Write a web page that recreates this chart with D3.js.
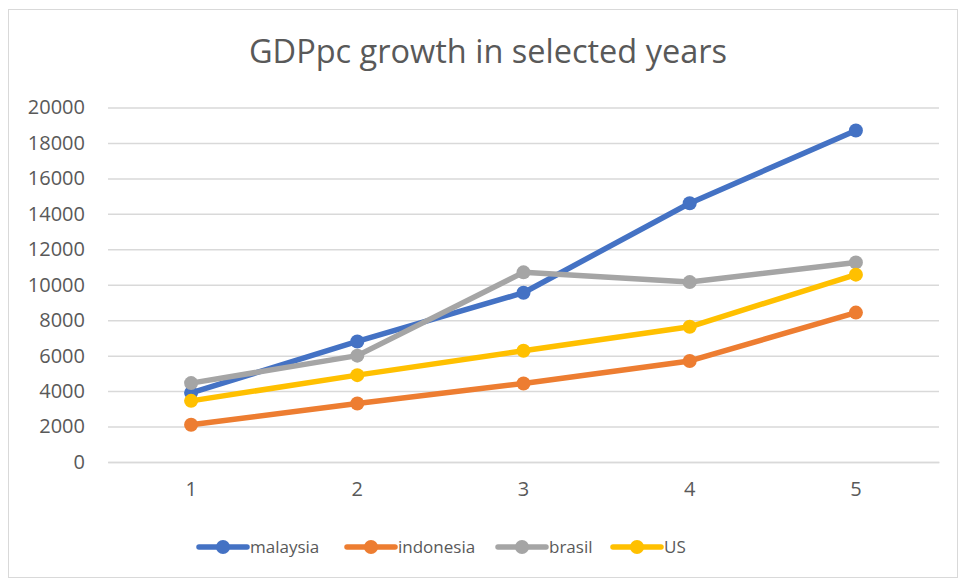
<!DOCTYPE html>
<html>
<head>
<meta charset="utf-8">
<script src="https://cdn.jsdelivr.net/npm/d3@7"></script>
<style>
  body { margin: 0; background: #fff; }
  svg { display: block; font-family: "Open Sans", "Noto Sans", sans-serif; }
</style>
</head>
<body>
<svg id="chart" width="960" height="579"></svg>
<script>
const categories = ["1", "2", "3", "4", "5"];
const yTicks = [0, 2000, 4000, 6000, 8000, 10000, 12000, 14000, 16000, 18000, 20000];
const malaysia = [3900, 6800, 9550, 14600, 18700];
const indonesia = [2100, 3300, 4430, 5700, 8430];
const brasil = [4450, 6000, 10700, 10150, 11260];
const us = [3450, 4900, 6280, 7630, 10570];

const seriesNames = ["malaysia", "indonesia", "brasil", "US"];
const seriesColors = ["#4472C4", "#ED7D31", "#A5A5A5", "#FFC000"];
const series = [malaysia, indonesia, brasil, us].map((values, i) => ({
  name: seriesNames[i], color: seriesColors[i], values
}));

const svg = d3.select("#chart");
const plot = {left: 108, right: 939, top: 107.5, bottom: 462};

// frame
svg.append("rect")
    .attr("x", 8.5).attr("y", 9.5)
    .attr("width", 949).attr("height", 568)
    .attr("fill", "#fff")
    .attr("stroke", "#d9d9d9");

// title
svg.append("text")
    .attr("x", 488).attr("y", 63)
    .attr("text-anchor", "middle")
    .attr("fill", "#595959")
    .style("font-size", "32.5px")
    .text("GDPpc growth in selected years");

// scales
const x = d3.scaleBand().domain(categories).range([plot.left, plot.right]);
const y = d3.scaleLinear().domain([0, 20000]).range([plot.bottom, plot.top]);
const cx = d => x(d) + x.bandwidth() / 2;

// gridlines + y labels
const yAxis = d3.axisLeft(y).tickValues(yTicks)
    .tickSize(-(plot.right - plot.left)).tickPadding(23).tickFormat(d3.format("d"));
const yG = svg.append("g").attr("transform", `translate(${plot.left},0)`).call(yAxis);
yG.select(".domain").remove();
yG.selectAll(".tick line").attr("stroke", "#d9d9d9").attr("stroke-width", 1.5);
yG.selectAll(".tick text").attr("fill", "#595959").style("font-size", "20px")
    .style("font-family", "'Open Sans', sans-serif");

// x axis
const xAxis = d3.axisBottom(x).tickSize(0).tickPadding(20);
const xG = svg.append("g").attr("transform", `translate(0,${plot.bottom})`).call(xAxis);
xG.select(".domain").attr("stroke", "#d9d9d9").attr("stroke-width", 1.5);
xG.selectAll(".tick text").attr("fill", "#595959").style("font-size", "20px")
    .style("font-family", "'Open Sans', sans-serif");

// lines + markers
const line = d3.line().x((d, i) => cx(categories[i])).y(d => y(d));
series.forEach(s => {
  const g = svg.append("g");
  g.append("path")
      .attr("d", line(s.values))
      .attr("fill", "none")
      .attr("stroke", s.color)
      .attr("stroke-width", 5.5)
      .attr("stroke-linejoin", "round")
      .attr("stroke-linecap", "round");
  g.selectAll("circle")
    .data(s.values)
    .enter()
    .append("circle")
      .attr("cx", (d, i) => cx(categories[i]))
      .attr("cy", d => y(d))
      .attr("r", 7)
      .attr("fill", s.color);
});

// legend
const legendX = [199, 347, 498, 613];
const legendY = 547;
const legend = svg.append("g");
series.forEach((s, i) => {
  const g = legend.append("g").attr("transform", `translate(${legendX[i]},${legendY})`);
  g.append("line")
      .attr("x1", 0).attr("x2", 48)
      .attr("stroke", s.color).attr("stroke-width", 5.5)
      .attr("stroke-linecap", "round");
  g.append("circle").attr("cx", 24).attr("r", 7).attr("fill", s.color);
  g.append("text")
      .attr("x", 51).attr("dy", "0.35em")
      .attr("fill", "#595959")
      .style("font-size", "17px")
      .text(s.name);
});
</script>
</body>
</html>
